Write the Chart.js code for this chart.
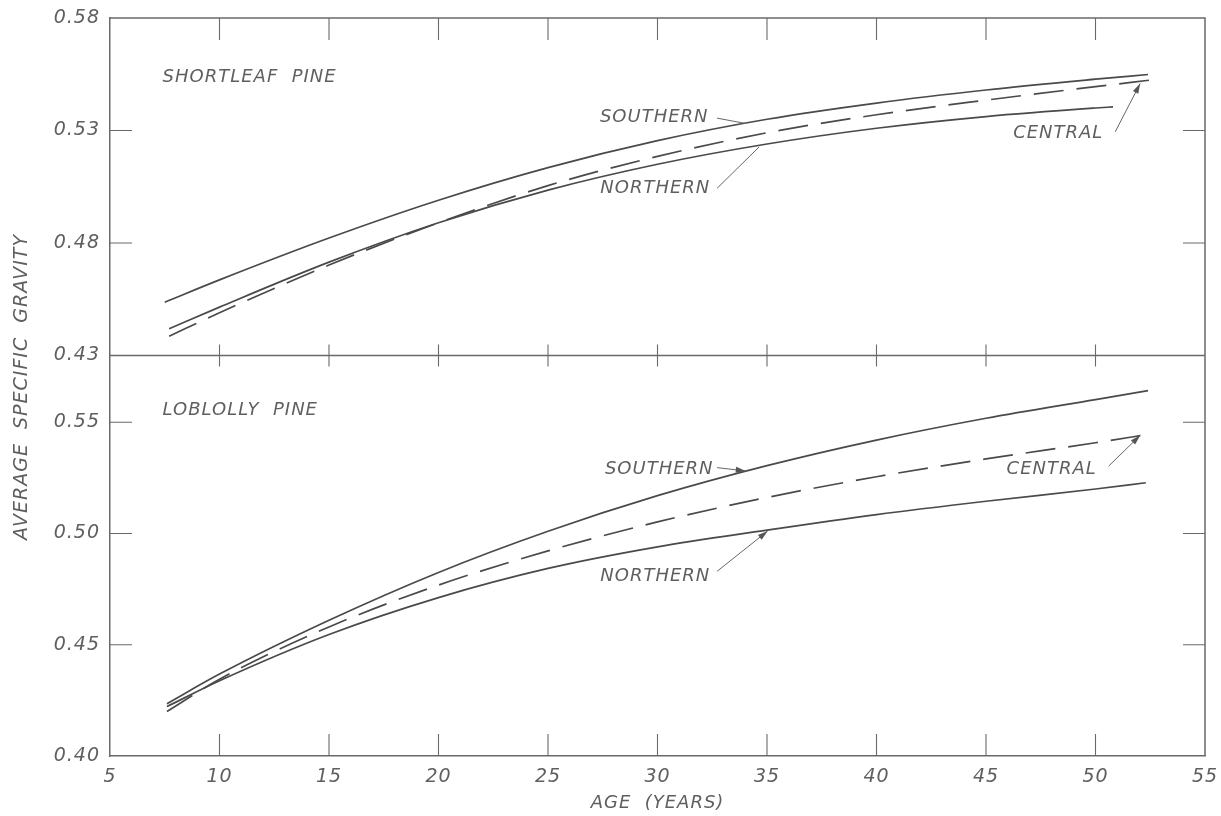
<!DOCTYPE html>
<html lang="en">
<head>
<meta charset="UTF-8">
<title>Average specific gravity by age</title>
<script src="https://cdn.jsdelivr.net/npm/chart.js@4.4.1/dist/chart.umd.min.js"></script>
<style>
  html, body { margin: 0; padding: 0; background: #fff; }
</style>
</head>
<body>
<canvas id="chart" width="1221" height="816"></canvas>
<script>
// tick values
const xTicks = [5, 10, 15, 20, 25, 30, 35, 40, 45, 50, 55];
const topTicks = [0.43, 0.48, 0.53, 0.58];
const bottomTicks = [0.40, 0.45, 0.50, 0.55];

// shortleaf pine (upper panel)
const shortSouthernAge = [7.5, 10, 15, 20, 25, 30, 35, 40, 45, 50, 52.4];
const shortSouthern = [0.4537, 0.4636, 0.4822, 0.4990, 0.5135, 0.5255, 0.5350, 0.5422, 0.5480, 0.5528, 0.5549];
const shortNorthernAge = [7.7, 10, 15, 20, 25, 30, 35, 40, 45, 50, 50.8];
const shortNorthern = [0.4419, 0.4515, 0.4715, 0.4890, 0.5035, 0.5150, 0.5240, 0.5310, 0.5362, 0.5400, 0.5405];
const shortCentralAge = [7.7, 10, 15, 20, 25, 30, 35, 40, 45, 50, 52.5];
const shortCentral = [0.4386, 0.4490, 0.4702, 0.4890, 0.5055, 0.5185, 0.5290, 0.5370, 0.5435, 0.5495, 0.5524];

// loblolly pine (lower panel)
const lobSouthernAge = [7.6, 10, 15, 20, 25, 30, 35, 40, 45, 50, 52.4];
const lobSouthern = [0.4235, 0.4368, 0.4610, 0.4825, 0.5010, 0.5170, 0.5305, 0.5420, 0.5518, 0.5602, 0.5642];
const lobNorthernAge = [7.6, 10, 15, 20, 25, 30, 35, 40, 45, 50, 52.3];
const lobNorthern = [0.4222, 0.4338, 0.4546, 0.4712, 0.4843, 0.4940, 0.5015, 0.5085, 0.5145, 0.5200, 0.5228];
const lobCentralAge = [7.6, 10, 15, 20, 25, 30, 35, 40, 45, 50, 52.5];
const lobCentral = [0.4200, 0.4345, 0.4580, 0.4768, 0.4922, 0.5052, 0.5162, 0.5255, 0.5335, 0.5408, 0.5447];

// curve labels with their leader lines (data units)
const notes = [
  { axis: 'yTop', text: 'SOUTHERN', at: [29.85, 0.5359], from: [32.72, 0.5355], to: [34.03, 0.5331], head: false },
  { axis: 'yTop', text: 'NORTHERN', at: [29.9, 0.5042], from: [32.72, 0.5043], to: [34.64, 0.5227], head: false },
  { axis: 'yTop', text: 'CENTRAL', at: [48.3, 0.5287], from: [50.9, 0.5294], to: [52.04, 0.5509], head: true },
  { axis: 'yBot', text: 'SOUTHERN', at: [30.08, 0.5288], from: [32.72, 0.5296], to: [34.03, 0.5281], head: true },
  { axis: 'yBot', text: 'NORTHERN', at: [29.9, 0.4808], from: [32.72, 0.4830], to: [35.03, 0.5011], head: true },
  { axis: 'yBot', text: 'CENTRAL', at: [48.0, 0.5288], from: [50.6, 0.5303], to: [52.04, 0.5441], head: true }
];
const panelNames = [
  { axis: 'yTop', text: 'SHORTLEAF  PINE', at: [7.4, 0.5537] },
  { axis: 'yBot', text: 'LOBLOLLY  PINE', at: [7.4, 0.5553] }
];

const ink = '#4a4a4a';
const frameInk = '#6a6a6a';
const textInk = '#5f5f5f';
const family = 'DejaVu Sans';

function series(label, ages, values, axis, dashed) {
  return {
    label: label,
    yAxisID: axis,
    data: ages.map((a, i) => ({ x: a, y: values[i] })),
    borderColor: ink,
    borderWidth: 1.7,
    borderDash: dashed ? [30, 13] : [],
    pointRadius: 0,
    fill: false,
    cubicInterpolationMode: 'monotone'
  };
}

const tickFont = { family: family, size: 19, style: 'italic' };

function noPad(s) {
  s.paddingTop = 0; s.paddingBottom = 0; s.paddingLeft = 0; s.paddingRight = 0;
}

// frame, inward tick marks, labels and arrows
const panelFrame = {
  id: 'panelFrame',
  beforeDraw(chart) {
    chart.ctx.letterSpacing = '1px';
  },
  afterDraw(chart) {
    const { ctx, chartArea: a, scales } = chart;
    const x = scales.x, yT = scales.yTop, yB = scales.yBot;
    const mid = yT.bottom;
    ctx.save();
    ctx.strokeStyle = frameInk;
    ctx.lineWidth = 1.5;
    ctx.beginPath();
    ctx.moveTo(a.left, a.top); ctx.lineTo(a.right, a.top); ctx.lineTo(a.right, a.bottom);
    ctx.moveTo(a.left, mid); ctx.lineTo(a.right, mid);
    ctx.stroke();

    ctx.lineWidth = 1.1;
    ctx.beginPath();
    xTicks.slice(1, -1).forEach(v => {
      const px = x.getPixelForValue(v);
      ctx.moveTo(px, a.top); ctx.lineTo(px, a.top + 22);
      ctx.moveTo(px, mid - 11); ctx.lineTo(px, mid + 11);
      ctx.moveTo(px, a.bottom); ctx.lineTo(px, a.bottom - 22);
    });
    const marks = topTicks.slice(1, -1).map(v => yT.getPixelForValue(v))
      .concat(bottomTicks.slice(1).map(v => yB.getPixelForValue(v)));
    marks.forEach(py => {
      ctx.moveTo(a.left, py); ctx.lineTo(a.left + 22, py);
      ctx.moveTo(a.right, py); ctx.lineTo(a.right - 22, py);
    });
    ctx.stroke();

    ctx.fillStyle = textInk;
    ctx.font = 'italic 18px "' + family + '"';
    ctx.letterSpacing = '1px';
    ctx.textBaseline = 'middle';
    ctx.textAlign = 'left';
    panelNames.forEach(p => {
      const s = scales[p.axis];
      ctx.fillText(p.text, x.getPixelForValue(p.at[0]), s.getPixelForValue(p.at[1]));
    });

    ctx.strokeStyle = '#666';
    ctx.lineWidth = 1;
    notes.forEach(n => {
      const s = scales[n.axis];
      ctx.textAlign = 'center';
      ctx.fillText(n.text, x.getPixelForValue(n.at[0]), s.getPixelForValue(n.at[1]));
      const x0 = x.getPixelForValue(n.from[0]), y0 = s.getPixelForValue(n.from[1]);
      const x1 = x.getPixelForValue(n.to[0]), y1 = s.getPixelForValue(n.to[1]);
      ctx.beginPath();
      ctx.moveTo(x0, y0); ctx.lineTo(x1, y1);
      ctx.stroke();
      if (n.head) {
        const ang = Math.atan2(y1 - y0, x1 - x0);
        ctx.beginPath();
        ctx.moveTo(x1, y1);
        ctx.lineTo(x1 - 10 * Math.cos(ang) + 3 * Math.sin(ang), y1 - 10 * Math.sin(ang) - 3 * Math.cos(ang));
        ctx.lineTo(x1 - 10 * Math.cos(ang) - 3 * Math.sin(ang), y1 - 10 * Math.sin(ang) + 3 * Math.cos(ang));
        ctx.closePath();
        ctx.fillStyle = '#555';
        ctx.fill();
        ctx.fillStyle = textInk;
      }
    });

    // y axis title
    ctx.translate(22, (a.top + a.bottom) / 2);
    ctx.rotate(-Math.PI / 2);
    ctx.textAlign = 'center';
    ctx.font = 'italic 19px "' + family + '"';
    ctx.fillText('AVERAGE  SPECIFIC  GRAVITY', 0, 0);
    ctx.restore();
  }
};

new Chart(document.getElementById('chart'), {
  type: 'line',
  data: {
    datasets: [
      series('Shortleaf southern', shortSouthernAge, shortSouthern, 'yTop', false),
      series('Shortleaf northern', shortNorthernAge, shortNorthern, 'yTop', false),
      series('Shortleaf central', shortCentralAge, shortCentral, 'yTop', true),
      series('Loblolly southern', lobSouthernAge, lobSouthern, 'yBot', false),
      series('Loblolly northern', lobNorthernAge, lobNorthern, 'yBot', false),
      series('Loblolly central', lobCentralAge, lobCentral, 'yBot', true)
    ]
  },
  options: {
    responsive: false,
    animation: false,
    layout: { padding: { top: 18, right: 16, left: 0, bottom: 0 } },
    plugins: { legend: { display: false }, tooltip: { enabled: false } },
    scales: {
      x: {
        type: 'linear', min: 5, max: 55,
        afterBuildTicks: s => { s.ticks = xTicks.map(v => ({ value: v })); },
        afterFit: s => { s.height = 60; noPad(s); },
        grid: { display: false, drawTicks: false },
        border: { display: true, color: frameInk, width: 1.5 },
        ticks: { color: textInk, font: tickFont, padding: 10, maxRotation: 0, autoSkip: false },
        title: {
          display: true, text: 'AGE  (YEARS)', color: textInk,
          font: { family: family, size: 18, style: 'italic' },
          padding: { top: 0, bottom: 2 }
        }
      },
      yBot: {
        type: 'linear', position: 'left', stack: 'panels', stackWeight: 0.178,
        min: 0.40, max: 0.58,
        afterBuildTicks: s => { s.ticks = bottomTicks.map(v => ({ value: v })); },
        afterFit: s => { s.width = 110; noPad(s); },
        grid: { display: false, drawTicks: false },
        border: { display: true, color: frameInk, width: 1.5 },
        ticks: { color: textInk, font: tickFont, padding: 10, callback: v => v.toFixed(2) }
      },
      yTop: {
        type: 'linear', position: 'left', stack: 'panels', stackWeight: 0.15,
        min: 0.43, max: 0.58,
        afterBuildTicks: s => { s.ticks = topTicks.map(v => ({ value: v })); },
        afterFit: s => { s.width = 110; noPad(s); },
        grid: { display: false, drawTicks: false },
        border: { display: true, color: frameInk, width: 1.5 },
        ticks: { color: textInk, font: tickFont, padding: 10, callback: v => v.toFixed(2) }
      }
    }
  },
  plugins: [panelFrame]
});
</script>
</body>
</html>
